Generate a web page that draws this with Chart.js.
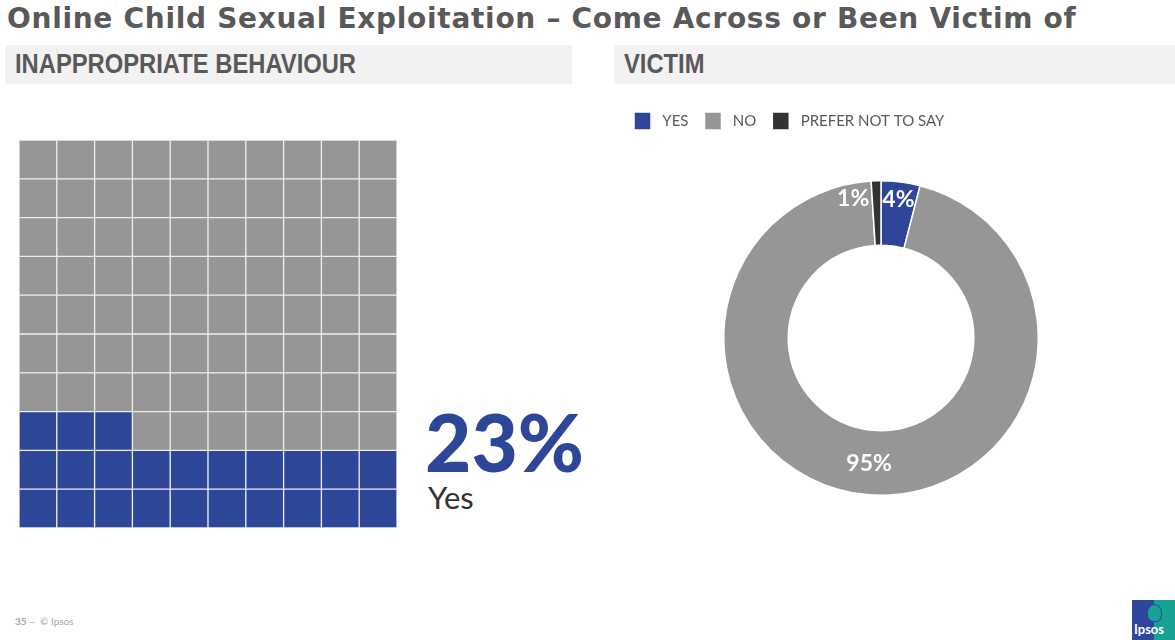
<!DOCTYPE html>
<html>
<head>
  <title>Online Child Sexual Exploitation</title>
  <script src="https://cdn.jsdelivr.net/npm/chart.js"></script>
  <style>
    body { margin: 0; width: 1175px; height: 640px; background: #fff; position: relative; overflow: hidden; font-family: 'Lato', 'Noto Sans', sans-serif; }
    .title { position: absolute; left: 7px; top: 2px; font-family: 'DejaVu Sans', sans-serif; font-size: 28px; font-weight: 700; letter-spacing: 0.7px; color: #595959; white-space: nowrap; }
    .section { position: absolute; top: 45px; height: 39px; background: #f2f2f2; }
    .section span { position: absolute; left: 10px; top: 4px; font-family: 'Liberation Sans', sans-serif; font-weight: 700; font-size: 27px; color: #595959; transform: scaleX(0.88); transform-origin: left center; white-space: nowrap; }
    .big { position: absolute; left: 425px; top: 401px; font-size: 80px; font-weight: 900; color: #2e4698; line-height: 1; }
    .yes { position: absolute; left: 428px; top: 482px; font-size: 31px; color: #333; line-height: 1; }
    .footer { position: absolute; left: 15px; top: 615px; font-size: 10px; color: #a6a6a6; }
    .logo { position: absolute; left: 1132px; top: 600px; width: 43px; height: 40px; background: linear-gradient(90deg, #2f469c 50%, #16a394 50%); overflow: hidden; }
    .logo .head { position: absolute; left: 15px; top: 4px; width: 13px; height: 16px; border-radius: 50% 50% 40% 40%; background: #16a394; border: 1px solid #2f469c; }
    .logo .word { position: absolute; left: 2px; top: 21px; font-size: 13px; font-weight: 700; color: #fff; }
  </style>
</head>
<body>
  <div class="title">Online Child Sexual Exploitation – Come Across or Been Victim of</div>
  <div class="section" style="left: 5px; width: 567px;"><span>INAPPROPRIATE BEHAVIOUR</span></div>
  <div class="section" style="left: 614px; width: 561px;"><span>VICTIM</span></div>

  <div style="position: absolute; left: 19px; top: 140px; width: 378px; height: 388px;">
    <canvas id="waffle"></canvas>
  </div>
  <div class="big" id="bigPct"></div>
  <div class="yes" id="bigLabel"></div>

  <div style="position: absolute; left: 625px; top: 96px; width: 512px; height: 400px;">
    <canvas id="victim"></canvas>
  </div>

  <div class="footer"><b>35</b> –&nbsp; © Ipsos</div>
  <div class="logo"><div class="head"></div><div class="word">Ipsos</div></div>

  <script>
    // Inappropriate behaviour: share who said yes, shown as a 10 x 10 waffle
    const waffleLabel = 'Yes';
    const waffleYes = 23;
    const gridSize = 10;

    // Victim: doughnut split
    const victimLabels = ['YES', 'NO', 'PREFER NOT TO SAY'];
    const victimValues = [4, 95, 1];

    const BLUE = '#2e4698';
    const GREY = '#969696';
    const DARK = '#333333';
    const victimColors = [BLUE, GREY, DARK];

    document.getElementById('bigPct').textContent = waffleYes + '%';
    document.getElementById('bigLabel').textContent = waffleLabel;

    // one stacked dataset per row, filled from the bottom row, left to right
    const columns = Array.from({ length: gridSize }, (_, i) => String(i + 1));
    const rows = [];
    for (let r = 0; r < gridSize; r++) {
      rows.push({
        data: columns.map(() => 1),
        backgroundColor: columns.map((_, c) => (r * gridSize + c < waffleYes ? BLUE : GREY)),
        borderColor: 'rgba(235,235,235,0.9)',
        borderWidth: 1,
        borderSkipped: false,
        categoryPercentage: 1,
        barPercentage: 1
      });
    }

    new Chart(document.getElementById('waffle'), {
      type: 'bar',
      data: { labels: columns, datasets: rows },
      options: {
        responsive: true,
        maintainAspectRatio: false,
        animation: false,
        events: [],
        layout: { padding: 0 },
        plugins: { legend: { display: false }, tooltip: { enabled: false } },
        scales: {
          x: { stacked: true, display: false },
          y: { stacked: true, display: false, min: 0, max: gridSize }
        }
      }
    });

    // percentage labels on the ring
    const ringLabels = {
      id: 'ringLabels',
      afterDatasetsDraw(chart) {
        const { ctx } = chart;
        const meta = chart.getDatasetMeta(0);
        ctx.save();
        ctx.fillStyle = '#fff';
        ctx.font = 'bold 23px Lato, sans-serif';
        ctx.textBaseline = 'middle';
        meta.data.forEach((arc, i) => {
          const p = arc.getProps(['x', 'y', 'startAngle', 'endAngle', 'innerRadius', 'outerRadius'], true);
          const span = p.endAngle - p.startAngle;
          const text = victimValues[i] + '%';
          if (span < 0.15) {
            // too thin: sit just left of the slice
            const r = p.innerRadius + (p.outerRadius - p.innerRadius) * 0.72;
            ctx.textAlign = 'right';
            ctx.fillText(text, p.x + r * Math.cos(p.startAngle) - 3, p.y + r * Math.sin(p.startAngle));
          } else {
            const f = span < 0.5 ? 0.72 : 0.52;
            const r = p.innerRadius + (p.outerRadius - p.innerRadius) * f;
            const a = (p.startAngle + p.endAngle) / 2;
            ctx.textAlign = 'center';
            ctx.fillText(text, p.x + r * Math.cos(a), p.y + r * Math.sin(a));
          }
        });
        ctx.restore();
      }
    };

    // leave room between the legend and the ring, and pull the legend a bit left
    const legendGap = {
      id: 'legendGap',
      beforeInit(chart) {
        const fit = chart.legend.fit;
        chart.legend.fit = function () {
          fit.call(this);
          this.height += 40;
        };
      },
      afterLayout(chart) {
        chart.legend.left -= 7;
        chart.legend.right -= 7;
      }
    };

    const doughnutLabels = Chart.overrides.doughnut.plugins.legend.labels.generateLabels;

    new Chart(document.getElementById('victim'), {
      type: 'doughnut',
      data: {
        labels: victimLabels,
        datasets: [{
          data: victimValues,
          backgroundColor: victimColors,
          borderColor: '#fff',
          borderWidth: 1.5
        }]
      },
      options: {
        responsive: true,
        maintainAspectRatio: false,
        animation: false,
        events: [],
        cutout: '59%',
        layout: { padding: 0 },
        plugins: {
          legend: {
            position: 'top',
            align: 'start',
            labels: {
              boxWidth: 17,
              boxHeight: 18,
              padding: 16,
              color: '#595959',
              font: { family: 'Lato', size: 15 },
              // a little extra air between each swatch and its text
              generateLabels(chart) {
                return doughnutLabels(chart).map(item => ({ ...item, text: ' ' + item.text }));
              }
            }
          },
          tooltip: { enabled: false }
        }
      },
      plugins: [ringLabels, legendGap]
    });
  </script>
</body>
</html>
